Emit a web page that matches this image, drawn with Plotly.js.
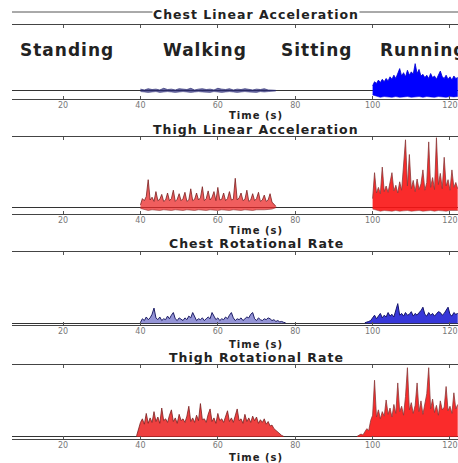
<!DOCTYPE html>
<html><head><meta charset="utf-8">
<script src="https://cdn.plot.ly/plotly-3.0.1.min.js"></script>
<style>html,body{margin:0;padding:0;background:#fff}#chart{width:458px;height:463px}
.annotation-text{letter-spacing:1px}</style>
</head><body><div id="chart"></div>
<script>
// ---- Data ----
const panelTitles = ['Chest Linear Acceleration', 'Thigh Linear Acceleration', 'Chest Rotational Rate', 'Thigh Rotational Rate'];
const xLabel = 'Time (s)';
const tickVals = [20, 40, 60, 80, 100, 120];
const activityLabels = ['Standing', 'Walking', 'Sitting', 'Running'];
const activityTimes = [21, 56.7, 85.4, 101.4];

// Chest linear acceleration
const chestLinWalkStart = 40, chestLinWalkStep = 1;
const chestLinWalkHi = [0.2,0.1,0.25,0.15,0.2,0.1,0.3,0.15,0.2,0.1,0.25,0.2,0.15,0.3,0.1,0.2,0.25,0.15,0.2,0.1,0.3,0.2,0.15,0.25,0.1,0.2,0.15,0.25,0.2,0.1,0.2,0.15,0.25,0.1,0.08,0.05];
const chestLinWalkLo = [-0.1,-0.15,-0.2,-0.15,-0.1,-0.2,-0.15,-0.1,-0.15,-0.2,-0.15,-0.1,-0.15,-0.2,-0.15,-0.1,-0.15,-0.15,-0.2,-0.1,-0.15,-0.2,-0.15,-0.1,-0.15,-0.2,-0.15,-0.1,-0.15,-0.15,-0.2,-0.1,-0.15,-0.1,-0.05,-0.03];
const chestLinRunStart = 100, chestLinRunStep = 0.5;
const chestLinRunHi = [0.6,1.1,0.9,1.3,1.0,1.4,1.1,1.5,1.2,1.7,1.4,1.9,1.5,2.1,2.7,1.8,2.2,1.7,2.5,1.9,2.3,2.0,3.3,2.1,2.6,1.8,2.0,1.6,1.9,1.5,2.1,1.6,1.8,1.4,2.0,2.4,1.7,1.5,1.9,1.4,1.7,1.3,1.8,1.5,1.6];
const chestLinRunLoStep = 1;
const chestLinRunLo = [-0.5,-0.7,-0.8,-0.7,-0.75,-0.8,-0.7,-0.8,-0.75,-0.7,-0.8,-0.75,-0.7,-0.8,-0.7,-0.75,-0.8,-0.7,-0.75,-0.8,-0.7,-0.75,-0.7];

// Thigh linear acceleration
const thighLinWalkStart = 40, thighLinWalkStep = 0.5;
const thighLinWalkHi = [0.3,1.2,0.9,1.5,3.9,1.0,1.4,0.8,2.2,0.9,1.1,1.8,0.8,1.0,2.0,0.9,1.2,2.4,0.8,1.1,1.9,0.9,1.2,2.1,0.8,1.0,2.6,0.9,1.1,2.0,1.0,1.3,2.9,0.9,1.2,2.3,1.0,1.4,2.2,0.9,2.8,1.0,1.1,2.0,0.9,1.2,2.2,1.0,1.1,4.1,1.0,1.3,2.0,0.9,1.1,2.4,0.8,1.0,1.9,0.9,1.2,2.1,0.8,1.0,1.7,0.8,1.0,1.9,0.7,0.4,0.1];
const thighLinWalkLoStep = 1;
const thighLinWalkLo = [-0.2,-0.4,-0.5,-0.4,-0.45,-0.5,-0.4,-0.45,-0.5,-0.4,-0.45,-0.5,-0.4,-0.45,-0.5,-0.4,-0.45,-0.5,-0.4,-0.45,-0.5,-0.4,-0.45,-0.5,-0.4,-0.45,-0.5,-0.4,-0.45,-0.5,-0.4,-0.45,-0.4,-0.35,-0.3,-0.1];
const thighLinRunStart = 100, thighLinRunStep = 0.5;
const thighLinRunHi = [1.2,4.9,2.0,2.8,1.9,5.7,2.2,3.0,2.1,3.4,4.9,2.3,3.1,2.0,3.6,2.4,6.0,9.6,3.0,7.5,2.6,3.8,2.2,4.0,2.5,3.3,5.3,2.4,3.5,9.3,2.8,4.2,2.5,9.9,3.2,4.8,2.6,7.1,3.0,3.9,2.4,5.3,2.8,3.5,2.6];
const thighLinRunLoStep = 1;
const thighLinRunLo = [-0.3,-0.5,-0.6,-0.5,-0.55,-0.6,-0.5,-0.6,-0.55,-0.5,-0.6,-0.55,-0.5,-0.6,-0.55,-0.5,-0.6,-0.5,-0.55,-0.6,-0.5,-0.55,-0.5];

// Chest rotational rate
const chestRotWalkStart = 40, chestRotWalkStep = 0.5;
const chestRotWalk = [0.1,0.5,0.3,0.7,0.4,0.6,1.0,1.7,0.6,0.4,0.7,0.3,0.5,0.4,0.8,0.5,0.9,1.2,0.5,0.3,0.6,0.4,0.3,0.6,0.4,0.8,0.6,1.2,0.7,0.3,0.5,0.4,0.6,0.3,0.5,0.7,0.5,1.2,0.8,0.4,0.6,0.3,0.5,0.4,0.7,0.5,0.9,1.2,0.6,0.3,0.5,0.4,0.6,0.3,0.5,0.7,0.6,1.0,1.2,0.5,0.3,0.6,0.4,0.3,0.5,0.4,0.6,0.5,0.3,0.4,0.2,0.3,0.15,0.2,0.1,0.05];
const chestRotRunStart = 98, chestRotRunStep = 0.5;
const chestRotRun = [0.05,0.1,0.2,0.3,0.6,0.9,0.5,0.8,1.1,0.6,0.9,0.7,1.2,0.8,1.0,0.7,1.4,2.2,0.9,1.1,0.8,1.2,0.9,1.0,1.3,0.8,1.1,0.9,1.2,1.4,1.8,1.0,0.8,1.2,0.9,1.1,0.8,1.0,1.3,1.2,0.9,1.1,1.4,1.8,1.0,0.8,1.2,1.0,1.1];

// Thigh rotational rate
const thighRotWalkStart = 39, thighRotWalkStep = 0.5;
const thighRotWalk = [0.1,0.8,1.6,2.0,1.4,2.6,1.5,2.1,1.6,2.8,1.7,2.2,1.5,3.2,1.8,2.0,1.6,2.4,3.0,1.7,2.1,1.5,2.5,1.8,2.0,1.6,2.3,3.4,1.7,2.1,1.6,2.4,1.8,3.7,1.9,2.0,1.6,2.5,3.1,1.7,2.1,1.5,2.6,1.8,2.0,1.6,2.4,2.9,1.7,2.1,1.6,2.3,3.1,1.8,2.0,1.5,2.5,1.7,2.1,1.6,2.3,1.8,2.2,1.5,1.9,1.6,2.0,1.4,1.7,1.2,1.3,0.9,0.7,0.5,0.3,0.15,0.05];
const thighRotRunStart = 96, thighRotRunStep = 0.5;
const thighRotRun = [0.05,0.2,0.3,0.2,0.5,0.9,0.7,1.8,2.4,6.3,2.2,3.0,2.0,2.8,2.3,4.1,2.5,3.2,2.2,3.6,2.6,6.0,2.8,3.4,2.4,4.5,7.7,3.0,3.8,2.6,3.5,6.0,2.8,4.0,2.5,3.6,4.8,7.7,3.1,4.2,2.7,3.5,2.4,4.0,3.0,3.3,5.6,2.9,3.4,2.6,4.9,3.1,3.6];

// ---- Build ----
function times(start, step, n) { return Array.from({length: n}, (_, i) => start + i * step); }

const traces = [];
function band(ax, start, step, hi, loStart, loStep, lo, fillColor, lineColor, lineWidth) {
  const xa = 'x' + (ax === 1 ? '' : ax), ya = 'y' + (ax === 1 ? '' : ax);
  if (lo) {
    traces.push({type: 'scatter', mode: 'lines', xaxis: xa, yaxis: ya,
      x: times(loStart, loStep, lo.length), y: lo, line: {color: lineColor, width: 0.5}, hoverinfo: 'skip'});
    traces.push({type: 'scatter', mode: 'lines', xaxis: xa, yaxis: ya,
      x: times(start, step, hi.length), y: hi, fill: 'tonexty', fillcolor: fillColor,
      line: {color: lineColor, width: lineWidth}, hoverinfo: 'skip'});
  } else {
    traces.push({type: 'scatter', mode: 'lines', xaxis: xa, yaxis: ya,
      x: times(start, step, hi.length), y: hi, fill: 'tozeroy', fillcolor: fillColor,
      line: {color: lineColor, width: lineWidth}, hoverinfo: 'skip'});
  }
}

band(1, chestLinWalkStart, chestLinWalkStep, chestLinWalkHi, chestLinWalkStart, chestLinWalkStep, chestLinWalkLo, 'rgba(40,40,120,0.7)', '#2a2a70', 0.7);
band(1, chestLinRunStart, chestLinRunStep, chestLinRunHi, chestLinRunStart, chestLinRunLoStep, chestLinRunLo, '#0000ff', '#0000d0', 0.8);
band(2, thighLinWalkStart, thighLinWalkStep, thighLinWalkHi, thighLinWalkStart, thighLinWalkLoStep, thighLinWalkLo, 'rgba(235,40,40,0.75)', '#7a2020', 0.8);
band(2, thighLinRunStart, thighLinRunStep, thighLinRunHi, thighLinRunStart, thighLinRunLoStep, thighLinRunLo, 'rgba(250,20,20,0.9)', '#8a3a3a', 0.8);
band(3, chestRotWalkStart, chestRotWalkStep, chestRotWalk, null, null, null, 'rgba(60,60,180,0.55)', '#1e1e66', 1);
band(3, chestRotRunStart, chestRotRunStep, chestRotRun, null, null, null, 'rgba(20,20,210,0.85)', '#15156a', 1);
band(4, thighRotWalkStart, thighRotWalkStep, thighRotWalk, null, null, null, 'rgba(235,30,30,0.85)', '#7a2020', 0.8);
band(4, thighRotRunStart, thighRotRunStep, thighRotRun, null, null, null, 'rgba(250,20,20,0.9)', '#8a3a3a', 0.8);

const H = 463;
const frames = [[25, 99], [137, 214], [252, 325], [365, 439]];
const yRanges = [[-1, 8], [-1, 10], [-0.2, 8], [-0.25, 8]];
const titleY = [15, 129, 243, 357];
const xlabY = [116, 230, 344, 457];
const titleX = (256 - 12) / 446;

const layout = {
  width: 458, height: 463, margin: {l: 12, r: 0, t: 0, b: 0},
  paper_bgcolor: '#fff', plot_bgcolor: '#fff', showlegend: false,
  font: {family: 'DejaVu Sans, sans-serif', color: '#222'},
  annotations: [], shapes: []
};
for (let i = 0; i < 4; i++) {
  const s = i === 0 ? '' : String(i + 1);
  layout['xaxis' + s] = {anchor: 'y' + s, domain: [0, 1], range: [6.8, 122.07],
    tickvals: tickVals, ticks: 'inside', ticklen: 3, tickcolor: '#555', ticklabelstandoff: -2,
    showline: true, linecolor: '#444', linewidth: 1, mirror: 'ticks',
    showgrid: false, zeroline: false, tickfont: {size: 8, color: '#777'}, fixedrange: true};
  layout['yaxis' + s] = {anchor: 'x' + s, domain: [1 - frames[i][1] / H, 1 - frames[i][0] / H],
    range: yRanges[i], showticklabels: false, showgrid: false, ticks: '',
    zeroline: true, zerolinecolor: '#333', zerolinewidth: 1, showline: false, fixedrange: true};
  layout.annotations.push({xref: 'paper', yref: 'paper', x: titleX, y: 1 - titleY[i] / H,
    text: '<b>' + panelTitles[i] + '</b>', showarrow: false, xanchor: 'center', yanchor: 'middle',
    font: {size: 12.5, color: '#222'}, bgcolor: i === 0 ? '#fff' : 'rgba(0,0,0,0)', borderpad: 0});
  layout.annotations.push({xref: 'paper', yref: 'paper', x: titleX, y: 1 - xlabY[i] / H,
    text: '<b>' + xLabel + '</b>', showarrow: false, xanchor: 'center', yanchor: 'middle',
    font: {size: 10, color: '#222'}});
}
layout.shapes.push({type: 'line', xref: 'paper', yref: 'paper', x0: 0, x1: 1, y0: 1 - 12 / H, y1: 1 - 12 / H,
  line: {color: '#555', width: 1}, layer: 'below'});
activityLabels.forEach((lab, k) => {
  layout.annotations.push({xref: 'x', yref: 'y', x: activityTimes[k], y: 5.0,
    text: '<b>' + lab + '</b>', showarrow: false, xanchor: k === 3 ? 'left' : 'center', yanchor: 'middle',
    font: {size: 17, color: '#222'}});
});

Plotly.newPlot('chart', traces, layout, {staticPlot: true, displayModeBar: false});
</script></body></html>
